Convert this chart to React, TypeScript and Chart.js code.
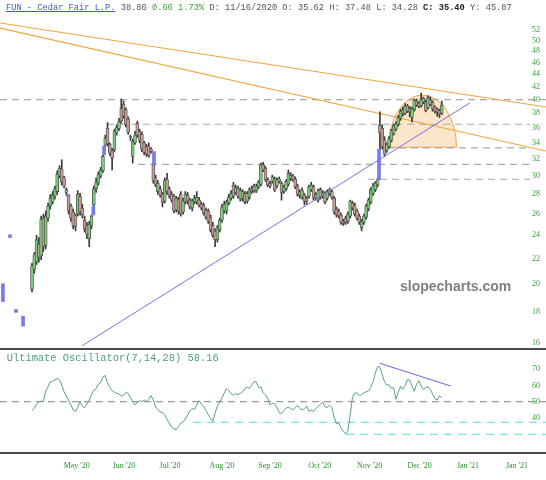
import React, { useEffect, useRef } from 'react';
import { Chart, registerables } from 'chart.js';
Chart.register(...registerables);

// ---------- DATA ----------
const opens = [
  19.6, 21.1, 21.7, 23.2, 22.2, 25.6, 23.1, 25.6, 26.8, 27.2,
  27.8, 28.3, 30.0, 30.8, 29.8, 28.2, 27.8, 26.8, 26.2, 25.9,
  26.0, 27.8, 26.6, 25.4, 24.9, 23.7, 24.9, 26.9, 28.6, 29.2,
  30.0, 30.6, 33.7, 35.9, 33.8, 33.0, 33.1, 35.3, 35.9, 38.7,
  39.3, 38.5, 37.2, 34.8, 32.3, 34.0, 36.6, 35.5, 35.1, 34.0,
  33.5, 33.6, 33.2, 31.3, 29.8, 28.3, 28.6, 28.0, 27.3, 29.6,
  28.6, 28.0, 27.8, 26.4, 27.5, 28.0, 26.2, 27.2, 27.9, 27.4,
  26.6, 27.2, 27.2, 27.4, 27.0, 26.9, 26.4, 26.3, 25.7, 24.9,
  24.4, 23.6, 24.5, 25.4, 26.3, 26.3, 27.1, 27.6, 29.0, 28.2,
  28.6, 27.5, 28.3, 27.2, 28.1, 27.7, 28.3, 28.9, 28.4, 28.8,
  29.1, 31.3, 30.9, 29.6, 29.2, 29.4, 29.7, 28.9, 29.4, 29.2,
  28.3, 28.6, 29.1, 29.7, 30.0, 29.7, 28.9, 28.3, 27.7, 27.9,
  27.6, 27.8, 28.5, 28.8, 28.0, 27.4, 28.5, 27.8, 28.1, 27.6,
  28.1, 28.3, 27.6, 26.5, 26.3, 25.9, 25.3, 25.6, 25.3, 25.8,
  27.1, 26.9, 26.3, 25.8, 24.7, 25.2, 25.7, 26.5, 27.2, 28.1,
  28.5, 29.0, 36.3, 35.9, 34.4, 33.0, 33.5, 34.3, 35.2, 35.8,
  36.4, 37.3, 38.5, 38.0, 39.1, 38.2, 37.4, 38.5, 39.8, 39.5,
  39.1, 39.6, 39.7, 38.8, 40.0, 39.6, 38.9, 38.6, 38.4, 38.0,
];
const highs = [
  21.6, 22.5, 24.0, 23.8, 25.8, 26.0, 26.3, 27.1, 28.0, 28.3,
  28.9, 30.6, 31.2, 31.9, 30.0, 28.7, 28.0, 27.0, 26.5, 26.0,
  28.4, 28.1, 27.0, 25.8, 25.2, 25.3, 25.9, 28.9, 29.8, 30.5,
  31.0, 32.5, 35.0, 36.7, 34.0, 33.3, 35.8, 36.4, 37.3, 40.1,
  39.8, 38.8, 37.5, 35.0, 34.5, 35.5, 36.9, 35.8, 35.4, 34.2,
  33.8, 34.0, 33.4, 31.5, 30.1, 29.5, 28.9, 28.2, 29.8, 30.3,
  28.8, 28.3, 28.0, 27.8, 27.7, 28.3, 27.6, 28.3, 28.2, 27.6,
  27.5, 27.9, 28.3, 27.7, 27.2, 27.1, 26.6, 26.5, 25.9, 25.2,
  24.6, 24.9, 25.6, 27.0, 27.3, 27.4, 28.0, 28.4, 29.3, 29.0,
  28.9, 28.7, 28.5, 28.3, 28.3, 28.7, 28.9, 29.1, 29.1, 29.5,
  31.5, 31.6, 31.1, 29.8, 29.4, 30.1, 29.9, 29.8, 29.9, 29.4,
  29.0, 29.6, 30.7, 30.4, 30.2, 29.9, 29.1, 28.5, 28.7, 28.1,
  27.8, 29.0, 29.3, 29.0, 28.2, 28.6, 28.7, 28.4, 28.3, 28.5,
  28.7, 28.5, 27.8, 26.7, 26.5, 26.1, 25.5, 25.8, 26.2, 27.4,
  27.3, 27.1, 26.5, 26.0, 25.5, 26.0, 27.0, 27.6, 28.7, 29.2,
  29.4, 29.8, 38.2, 36.4, 34.8, 34.0, 34.8, 35.8, 36.5, 36.8,
  37.7, 38.6, 38.9, 39.4, 39.3, 39.0, 38.9, 40.1, 40.1, 39.7,
  41.0, 40.4, 39.9, 40.6, 40.4, 39.8, 39.1, 38.8, 38.6, 39.8,
];
const lows = [
  19.4, 20.8, 21.5, 21.7, 21.9, 22.6, 22.8, 25.3, 26.5, 27.0,
  27.5, 28.0, 29.8, 29.0, 28.7, 27.9, 26.0, 25.3, 24.6, 24.4,
  25.8, 25.9, 25.6, 24.3, 23.7, 23.0, 24.6, 26.7, 28.2, 29.0,
  29.8, 30.4, 33.5, 33.6, 32.4, 30.7, 32.9, 35.0, 35.6, 36.6,
  37.3, 36.1, 35.1, 34.3, 31.5, 33.8, 34.7, 34.0, 32.9, 32.5,
  32.3, 32.2, 32.7, 29.2, 28.8, 28.0, 27.7, 26.7, 27.1, 28.0,
  27.6, 27.2, 26.1, 26.2, 26.0, 25.8, 26.0, 27.0, 27.0, 26.5,
  26.3, 27.0, 27.0, 26.7, 26.4, 25.9, 25.5, 25.1, 24.3, 23.8,
  23.0, 23.4, 24.3, 25.2, 26.1, 26.0, 26.9, 27.4, 27.6, 28.0,
  27.6, 27.3, 27.3, 27.0, 27.1, 27.5, 28.1, 28.2, 28.2, 28.6,
  28.9, 30.5, 29.4, 28.8, 28.7, 29.2, 28.3, 28.7, 29.2, 27.4,
  28.1, 28.4, 28.9, 29.5, 29.4, 28.6, 27.8, 27.6, 27.5, 26.9,
  27.0, 27.6, 28.3, 27.4, 27.4, 27.2, 27.5, 27.6, 27.0, 27.4,
  27.9, 27.5, 26.0, 25.7, 25.6, 25.0, 24.9, 25.0, 25.1, 25.6,
  26.4, 25.8, 25.4, 25.0, 24.4, 25.0, 25.5, 26.3, 27.0, 27.9,
  28.3, 28.8, 33.2, 33.2, 32.3, 32.8, 33.3, 34.1, 35.0, 35.6,
  36.2, 37.0, 37.6, 37.8, 38.1, 37.5, 36.8, 38.3, 39.0, 38.8,
  38.9, 39.4, 38.2, 38.6, 39.1, 38.3, 38.0, 37.6, 37.4, 37.8,
];
const closes = [
  21.4, 22.3, 23.6, 22.1, 25.5, 23.0, 25.8, 26.8, 27.6, 27.9,
  28.6, 30.2, 30.9, 29.3, 28.9, 28.5, 26.3, 25.6, 24.9, 24.8,
  28.0, 26.2, 25.9, 24.6, 24.1, 25.0, 25.8, 28.6, 29.3, 30.2,
  30.7, 32.3, 34.6, 33.9, 32.7, 32.1, 35.5, 36.0, 36.8, 36.9,
  37.6, 36.4, 35.4, 34.7, 34.2, 35.0, 35.0, 34.3, 33.2, 32.8,
  32.6, 32.4, 32.9, 29.5, 29.0, 29.2, 27.9, 27.2, 29.5, 28.3,
  27.9, 27.4, 26.3, 27.6, 26.3, 26.0, 27.3, 28.0, 27.3, 26.7,
  27.3, 27.6, 27.7, 26.9, 26.6, 26.1, 25.7, 25.3, 24.5, 24.0,
  23.6, 24.7, 25.4, 26.7, 27.0, 27.2, 27.7, 28.1, 27.8, 28.7,
  27.8, 28.4, 27.6, 28.1, 27.3, 28.5, 28.6, 28.4, 28.9, 29.3,
  31.3, 30.7, 29.6, 29.0, 28.9, 29.9, 28.5, 29.6, 29.7, 28.2,
  28.8, 29.4, 30.3, 30.1, 29.6, 28.8, 28.0, 27.9, 28.4, 27.3,
  27.3, 28.8, 29.0, 27.6, 27.6, 28.4, 27.7, 28.2, 27.2, 28.3,
  28.4, 27.7, 26.2, 25.9, 25.8, 25.2, 25.1, 25.2, 26.0, 27.3,
  26.6, 26.0, 25.6, 25.2, 25.3, 25.8, 26.8, 27.4, 28.5, 28.9,
  29.2, 29.6, 35.3, 33.5, 32.6, 33.8, 34.5, 35.6, 36.3, 36.5,
  37.4, 38.3, 37.9, 39.0, 38.3, 38.7, 38.6, 39.9, 39.2, 39.0,
  40.0, 40.2, 38.4, 40.3, 39.3, 38.6, 38.3, 38.2, 37.9, 39.2,
];

// Ultimate Oscillator (7,14,28), one value per candle
const oscValues = [
  44.5, 45.9, 48.6, 50.0, 50.4, 50.0, 56.8, 59.1, 62.2, 62.6,
  63.4, 64.4, 63.6, 60.3, 56.2, 53.5, 50.6, 48.0, 44.9, 44.1,
  46.5, 50.4, 47.1, 46.3, 48.4, 51.1, 54.3, 57.0, 58.0, 60.9,
  61.7, 65.5, 66.1, 61.7, 58.7, 56.8, 55.8, 55.2, 54.8, 53.5,
  53.9, 55.6, 55.2, 52.5, 49.8, 48.0, 49.8, 50.6, 50.0, 51.1,
  50.0, 51.5, 53.7, 51.1, 46.7, 45.1, 43.7, 43.2, 42.0, 39.1,
  36.5, 34.4, 33.2, 32.7, 34.6, 36.9, 37.5, 39.3, 41.8, 44.3,
  45.7, 45.3, 48.0, 50.6, 48.6, 47.1, 44.5, 42.0, 40.0, 37.8,
  43.2, 47.3, 49.8, 52.3, 55.4, 58.1, 56.8, 55.0, 54.1, 55.0,
  54.3, 55.2, 56.2, 58.1, 59.1, 58.3, 60.3, 62.4, 62.2, 58.7,
  59.1, 55.4, 54.3, 51.9, 48.0, 49.0, 48.8, 46.5, 43.2, 42.6,
  44.5, 45.9, 46.7, 45.7, 44.9, 46.5, 47.8, 45.9, 44.9, 45.7,
  47.3, 43.9, 44.9, 43.9, 45.9, 47.1, 48.4, 49.8, 46.9, 46.5,
  47.8, 46.3, 40.4, 36.6, 36.8, 33.8, 31.9, 30.1, 32.1, 41.8,
  52.7, 55.4, 55.4, 53.7, 54.3, 55.4, 56.2, 56.6, 58.7, 62.4,
  67.7, 71.8, 71.2, 66.7, 62.2, 60.3, 60.3, 58.3, 58.7, 51.5,
  55.8, 59.5, 57.6, 59.9, 63.6, 63.4, 59.9, 56.4, 60.7, 63.0,
  59.7, 57.4, 58.9, 59.3, 57.6, 54.8, 51.9, 51.1, 53.7, 52.5,
];

// Gap markers (blue), position in trading-day index
const gapIdx = [-12.7, -9.6, -7.0, -3.9, 15.8, 26.8, 31.5, 53.3, 151.6];
const gapLow = [18.7, 23.8, 17.95, 17.05, 27.8, 25.9, 32.5, 31.3, 29.6];
const gapHigh = [20.0, 24.05, 18.15, 17.7, 28.0, 26.8, 33.6, 32.9, 33.2];

// Horizontal price levels (dashed)
const levelPrices = [40.02, 36.46, 31.36, 33.35, 29.64];
const levelStart = [-14, 32.8, 46.3, 155.1, 146.8];
const levelEnd = [224.6, 217.6, 217.6, 217.6, 217.6];

// Trend lines
const fanX = [-13.98, 224.55];
const fanUpper = [53.39, 38.91];
const fanLower = [52.39, 32.97];
const supportX = [21.7, 191.2];
const supportY = [15.82, 39.5];

// Rounding-top dome annotation
const domeCenter = 170.6;
const domeHalfWidth = 14.85;
const domeBase = 33.43;
const domeTop = 40.7;

// Oscillator annotations
const oscMid = 50;
const oscSupportLevels = [37.3, 29.9];
const oscSupportStart = [70.3, 137.2];
const oscTrendX = [151.9, 182.9];
const oscTrendY = [73.7, 59.7];

const priceTicks = [16, 18, 20, 22, 24, 26, 28, 30, 32, 34, 36, 38, 40, 42, 44, 46, 48, 50, 52];
const oscTicks = [40, 50, 60, 70];
const monthLabels = ["May '20", "Jun '20", "Jul '20", "Aug '20", "Sep '20", "Oct '20", "Nov '20", "Dec '20", "Jan '21", "Jan '21"];
const monthPos = [19.53, 40.19, 60.29, 83.0, 103.97, 125.69, 147.53, 169.37, 190.48, 211.88];

const X_MIN = -13.98;
const X_MAX = 217.56;
const X_EDGE = 224.6;

const TICK_GREEN = '#3a9a3a';
const UP = '#78cc78';
const DOWN = '#c99b93';

const domePlugin = {
  id: 'dome',
  beforeDatasetsDraw(chart: any) {
    const { ctx, scales } = chart;
    const x = scales.x, y = scales.y;
    const cx = x.getPixelForValue(domeCenter);
    const rx = x.getPixelForValue(domeCenter + domeHalfWidth) - cx;
    const by = y.getPixelForValue(domeBase);
    const ty = y.getPixelForValue(domeTop);
    ctx.save();
    ctx.beginPath();
    ctx.ellipse(cx, by, rx, by - ty, 0, Math.PI, 2 * Math.PI);
    ctx.closePath();
    ctx.fillStyle = 'rgba(250, 190, 120, 0.4)';
    ctx.fill();
    ctx.strokeStyle = '#f2a54a';
    ctx.lineWidth = 1;
    ctx.stroke();
    ctx.restore();
  },
};

const borderPlugin = {
  id: 'panelBorders',
  afterDraw(chart: any) {
    const { ctx, chartArea, width } = chart;
    ctx.save();
    ctx.fillStyle = '#4a4a4a';
    ctx.fillRect(0, chartArea.top - 2, width, 2);
    ctx.fillRect(0, chartArea.bottom, width, 2);
    ctx.restore();
  },
};

function seg(x0: number, y0: number, x1: number, y1: number) {
  return [{ x: x0, y: y0 }, { x: x1, y: y1 }];
}

export default function App() {
  const topRef = useRef<HTMLCanvasElement>(null);
  const botRef = useRef<HTMLCanvasElement>(null);

  useEffect(() => {
    document.body.style.margin = '0';
    Chart.defaults.font.family = '"Liberation Serif", serif';

    const levelSets = levelPrices.map((p, k) => ({
      type: 'line' as const,
      data: seg(levelStart[k], p, levelEnd[k], p),
      borderColor: '#a9a9a9',
      borderWidth: 1.2,
      borderDash: [7, 5],
      pointRadius: 0,
      clip: false as any,
      order: 9,
    }));

    const top = new Chart(topRef.current!, {
      type: 'bar',
      data: {
        datasets: [
          {
            type: 'bar',
            data: gapIdx.map((x, k) => ({ x, y: [gapLow[k], gapHigh[k]] })) as any,
            backgroundColor: '#7b7be8',
            barThickness: 3,
            grouped: false,
            order: 3,
          } as any,
          {
            type: 'bar',
            data: opens.map((o, i) => ({ x: i, y: [o, closes[i]] })) as any,
            backgroundColor: opens.map((o, i) => (closes[i] >= o ? UP : DOWN)),
            borderColor: '#505050',
            borderWidth: 0.8,
            borderSkipped: false,
            barThickness: 3,
            grouped: false,
            order: 4,
          } as any,
          {
            type: 'bar',
            data: lows.map((l, i) => ({ x: i, y: [l, highs[i]] })) as any,
            backgroundColor: '#3a3a3a',
            barThickness: 1,
            grouped: false,
            order: 5,
          } as any,
          {
            type: 'line',
            data: seg(fanX[0], fanUpper[0], fanX[1], fanUpper[1]),
            borderColor: '#f3a444',
            borderWidth: 1.2,
            pointRadius: 0,
            clip: false,
            order: 6,
          } as any,
          {
            type: 'line',
            data: seg(fanX[0], fanLower[0], fanX[1], fanLower[1]),
            borderColor: '#f3a444',
            borderWidth: 1.2,
            pointRadius: 0,
            clip: false,
            order: 6,
          } as any,
          {
            type: 'line',
            data: seg(supportX[0], supportY[0], supportX[1], supportY[1]),
            borderColor: '#7a70e0',
            borderWidth: 1,
            pointRadius: 0,
            order: 1,
          } as any,
          ...(levelSets as any[]),
        ],
      },
      options: {
        responsive: false,
        animation: false,
        events: [],
        layout: { padding: 0 },
        plugins: { legend: { display: false }, tooltip: { enabled: false } },
        scales: {
          x: {
            type: 'linear',
            display: false,
            min: X_MIN,
            max: X_MAX,
            offset: false,
            bounds: 'data',
          },
          y: {
            type: 'logarithmic',
            position: 'right',
            min: 15.7,
            max: 58.22,
            bounds: 'data',
            z: 1,
            grid: { display: false, drawTicks: false },
            border: { display: false },
            afterBuildTicks: (s: any) => {
              s.ticks = priceTicks.map((v) => ({ value: v }));
            },
            afterFit: (s: any) => {
              s.width = 16;
              s.paddingTop = 0;
              s.paddingBottom = 0;
            },
            ticks: {
              autoSkip: false,
              padding: 2,
              color: TICK_GREEN,
              font: { size: 8, family: '"Liberation Serif", serif' },
              callback: (v: any) => String(v),
            },
          },
        },
      } as any,
      plugins: [domePlugin],
    });

    const bot = new Chart(botRef.current!, {
      type: 'line',
      data: {
        datasets: [
          {
            data: oscValues.map((v, i) => ({ x: i, y: v })),
            borderColor: '#5b9e86',
            borderWidth: 1,
            pointRadius: 0,
            tension: 0,
            order: 2,
          },
          {
            data: seg(X_MIN, oscMid, X_EDGE, oscMid),
            borderColor: '#9c9c9c',
            borderWidth: 1.2,
            borderDash: [7, 5],
            pointRadius: 0,
            clip: false,
            order: 4,
          } as any,
          ...oscSupportLevels.map((v, k) => ({
            data: seg(oscSupportStart[k], v, X_EDGE, v),
            borderColor: '#55dede',
            borderWidth: 1.2,
            borderDash: [8, 6],
            pointRadius: 0,
            clip: false,
            order: 4,
          })) as any[],
          {
            data: seg(oscTrendX[0], oscTrendY[0], oscTrendX[1], oscTrendY[1]),
            borderColor: '#7a70e0',
            borderWidth: 1.2,
            pointRadius: 0,
            order: 1,
          },
        ],
      },
      options: {
        responsive: false,
        animation: false,
        events: [],
        layout: { padding: { top: 2, left: 0, right: 0, bottom: 0 } },
        plugins: { legend: { display: false }, tooltip: { enabled: false } },
        scales: {
          x: {
            type: 'linear',
            min: X_MIN,
            max: X_MAX,
            offset: false,
            bounds: 'data',
            grid: { display: false, drawTicks: false },
            border: { display: false },
            afterBuildTicks: (s: any) => {
              s.ticks = monthPos.map((v) => ({ value: v }));
            },
            afterFit: (s: any) => {
              s.height = 28;
              s.paddingLeft = 0;
              s.paddingRight = 0;
            },
            ticks: {
              autoSkip: false,
              maxRotation: 0,
              padding: 9,
              color: '#2f8f2f',
              font: { size: 8, family: '"Liberation Serif", serif' },
              callback: (_v: any, idx: number) => monthLabels[idx],
            },
          },
          y: {
            type: 'linear',
            position: 'right',
            min: 18.95,
            max: 81.9,
            bounds: 'data',
            z: 1,
            grid: { display: false, drawTicks: false },
            border: { display: false },
            afterBuildTicks: (s: any) => {
              s.ticks = oscTicks.map((v) => ({ value: v }));
            },
            afterFit: (s: any) => {
              s.width = 16;
              s.paddingTop = 0;
              s.paddingBottom = 0;
            },
            ticks: {
              autoSkip: false,
              padding: 2,
              color: TICK_GREEN,
              font: { size: 8, family: '"Liberation Serif", serif' },
              callback: (v: any) => String(v),
            },
          },
        },
      } as any,
      plugins: [borderPlugin],
    });

    return () => {
      top.destroy();
      bot.destroy();
    };
  }, []);

  const mono = '"Liberation Mono", "DejaVu Sans Mono", monospace';
  return (
    <div style={{ position: 'absolute', left: 0, top: 0, width: 546, height: 480, background: '#fff', overflow: 'hidden' }}>
      <canvas ref={topRef} width={546} height={348} style={{ position: 'absolute', left: 0, top: 0 }} />
      <canvas ref={botRef} width={546} height={132} style={{ position: 'absolute', left: 0, top: 348 }} />
      <div
        style={{
          position: 'absolute', left: 6, top: 4, fontFamily: mono, fontSize: '8.7px', lineHeight: '8.7px',
          whiteSpace: 'pre', color: '#555',
        }}
      >
        <span style={{ color: '#3b5bd6', textDecoration: 'underline' }}>FUN - Cedar Fair L.P.</span>
        {' 38.86 '}
        <span style={{ color: '#3aa03a' }}>0.66 1.73%</span>
        {' D: 11/16/2020 O: 35.62 H: 37.48 L: 34.28 '}
        <b style={{ color: '#222' }}>C: 35.40</b>
        {' Y: 45.87'}
      </div>
      <div
        style={{
          position: 'absolute', left: 6.7, top: 352.5, fontFamily: mono, fontSize: '10.4px', lineHeight: '10.4px',
          whiteSpace: 'pre', color: '#4f9c86',
        }}
      >
        Ultimate Oscillator(7,14,28) 58.16
      </div>
      <div
        style={{
          position: 'absolute', left: 400, top: 279, fontFamily: '"Liberation Sans", Arial, sans-serif',
          fontWeight: 'bold', fontSize: '14px', lineHeight: '14px', color: '#7f7f7f', whiteSpace: 'pre',
        }}
      >
        slopecharts.com
      </div>
    </div>
  );
}
